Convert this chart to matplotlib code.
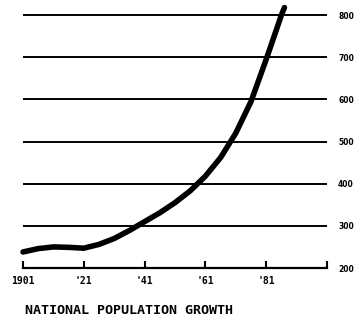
import matplotlib
matplotlib.use("Agg")
import matplotlib.pyplot as plt

# population (millions)
years = [1901, 1906, 1911, 1916, 1921, 1926, 1931, 1936, 1941, 1946, 1951,
         1956, 1961, 1966, 1971, 1976, 1981, 1986, 1987]
population = [238, 246, 250, 249, 247, 256, 270, 289, 310, 331, 355,
              383, 418, 462, 520, 595, 695, 800, 818]

x_ticks = [1901, 1921, 1941, 1961, 1981, 2001]
x_labels = ["1901", "'21", "'41", "'61", "'81", ""]
y_grid = [300, 400, 500, 600, 700, 800]
y_ticks = [200, 300, 400, 500, 600, 700, 800]
title = "NATIONAL POPULATION GROWTH"

fig = plt.figure(figsize=(3.54, 3.18), dpi=100)
ax = fig.add_axes([23 / 354, 50 / 318, 304 / 354, 263 / 318])

for v in y_grid:
    ax.axhline(v, color="black", linewidth=1.4, zorder=1)

ax.plot(years, population, color="black", linewidth=4.0, clip_on=False,
        solid_capstyle="round", solid_joinstyle="round", zorder=3)

ax.set_xlim(1901, 2001)
ax.set_ylim(200, 824)

for side in ["top", "left", "right"]:
    ax.spines[side].set_visible(False)
ax.spines["bottom"].set_linewidth(1.6)
ax.spines["bottom"].set_zorder(2)

ax.set_xticks(x_ticks)
ax.set_xticklabels(x_labels, fontfamily="DejaVu Sans Mono", fontweight="bold",
                   fontsize=7)
ax.tick_params(axis="x", direction="in", length=5, width=1.5, pad=6)

ax.yaxis.tick_right()
ax.set_yticks(y_ticks)
ax.set_yticklabels([str(v) for v in y_ticks], fontweight="bold", fontsize=5.5)
ax.tick_params(axis="y", length=0, pad=8)

fig.text(25 / 354, 1 - 310 / 318, title, fontfamily="DejaVu Sans Mono",
         fontweight="bold", fontsize=9.6, va="center", ha="left")

fig.savefig("out.png", dpi=100)
